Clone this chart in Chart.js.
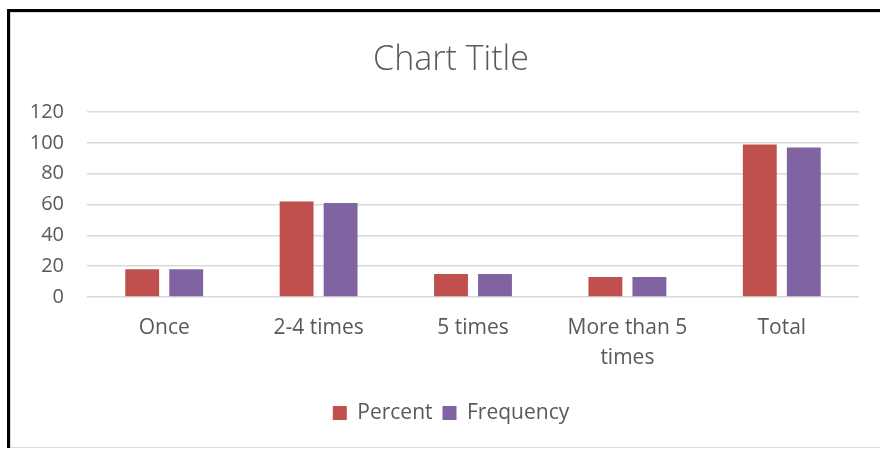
<!DOCTYPE html>
<html>
<head>
<meta charset="utf-8">
<script src="https://cdn.jsdelivr.net/npm/chart.js@4/dist/chart.umd.min.js"></script>
<style>
  html, body { margin: 0; padding: 0; background: #fff; }
  body { width: 880px; height: 449px; position: relative; overflow: hidden; }
  #frame {
    position: absolute; left: 7px; top: 9px; width: 900px; height: 436px;
    border-top: 3px solid #000; border-left: 3px solid #000;
  }
  #frame-inner { width: 100%; height: 100%; border: 1px solid #d9d9d9; box-sizing: border-box; }
  #chart { position: absolute; left: 0; top: 0; }
</style>
</head>
<body>
<div id="frame"><div id="frame-inner"></div></div>
<canvas id="chart" width="880" height="449"></canvas>
<script>
const categories = ["Once", "2-4 times", "5 times", ["More than 5", "times"], "Total"];
const percentValues = [18, 62, 15, 13, 99];
const frequencyValues = [18, 61, 15, 13, 97];
const yTicks = [0, 20, 40, 60, 80, 100, 120];

(function () {
  const textColor = "#595959";
  const fontFamily = "'Open Sans', 'Liberation Sans', sans-serif";

  // y labels are wider than the axis box; widen the clip area after layout
  const widenYAxis = {
    id: "widenYAxis",
    afterLayout(chart) { chart.scales.y.left = 0; }
  };

  const ctx = document.getElementById("chart").getContext("2d");
  new Chart(ctx, {
    type: "bar",
    data: {
      labels: categories,
      datasets: [
        { label: "Percent", data: percentValues, backgroundColor: "#C0504D" },
        { label: "Frequency", data: frequencyValues, backgroundColor: "#8064A2" }
      ]
    },
    plugins: [widenYAxis],
    options: {
      responsive: false,
      devicePixelRatio: 1,
      animation: false,
      layout: { padding: { left: 43, right: 21, top: 0, bottom: 15.5 } },
      datasets: { bar: { categoryPercentage: 0.57, barPercentage: 0.77 } },
      plugins: {
        tooltip: { enabled: false },
        title: {
          display: true,
          text: "Chart Title",
          color: textColor,
          font: { family: fontFamily, size: 34, weight: "300", lineHeight: 1.2 },
          padding: { top: 40, bottom: 31.2 }
        },
        legend: {
          position: "bottom",
          labels: {
            color: textColor,
            font: { family: fontFamily, size: 21 },
            boxWidth: 14,
            boxHeight: 14,
            padding: 10
          }
        }
      },
      scales: {
        x: {
          grid: { display: false },
          border: { display: false },
          ticks: {
            color: textColor,
            font: { family: fontFamily, size: 21, lineHeight: 1.43 },
            padding: 8,
            maxRotation: 0,
            autoSkip: false
          },
          afterFit: (s) => { s.height = 95.5; }
        },
        y: {
          min: 0,
          max: 120,
          afterBuildTicks: (s) => { s.ticks = yTicks.map(v => ({ value: v })); },
          grid: { color: "#d9d9d9", lineWidth: 1.5, drawTicks: false },
          border: { display: false },
          ticks: {
            color: textColor,
            font: { family: fontFamily, size: 20 },
            padding: 23
          },
          afterFit: (s) => { s.width = 44; }
        }
      }
    }
  });
})();
</script>
</body>
</html>
